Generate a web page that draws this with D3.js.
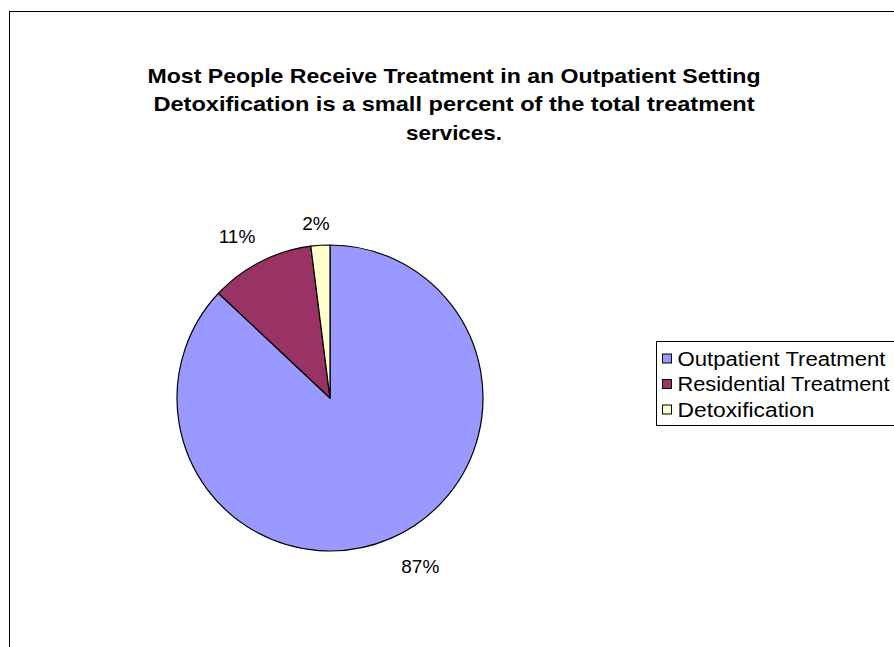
<!DOCTYPE html>
<html>
<head>
<meta charset="utf-8">
<script src="https://cdn.jsdelivr.net/npm/d3@7"></script>
<style>
  html, body { margin: 0; padding: 0; background: #fff; }
  svg { display: block; }
  text { font-family: "Liberation Sans", Arial, sans-serif; fill: #000; }
</style>
</head>
<body>
<svg id="chart" width="894" height="647"></svg>
<script>
// Treatment setting shares (percent of total treatment services)
const categories = ["Outpatient Treatment", "Residential Treatment", "Detoxification"];
const shares = [87, 11, 2];
const colors = ["#9999FF", "#993366", "#FFFFCC"];
const titleLines = [
  "Most People Receive Treatment in an Outpatient Setting",
  "Detoxification is a small percent of the total treatment",
  "services."
];

const svg = d3.select("#chart");

// chart area frame (runs off the right and bottom edges)
svg.append("rect")
  .attr("x", 9.5).attr("y", 11.5)
  .attr("width", 900).attr("height", 700)
  .attr("fill", "#fff")
  .attr("stroke", "#000").attr("stroke-width", 1);

// title: three centred bold lines, set to a fixed width
const titleY = [83, 111, 140];
const titleW = [613, 601, 96];
const title = svg.append("g");
titleLines.forEach((t, i) => {
  title.append("text")
    .attr("x", 454).attr("y", titleY[i])
    .attr("text-anchor", "middle")
    .attr("font-size", 21)
    .attr("font-weight", "bold")
    .attr("textLength", titleW[i])
    .attr("lengthAdjust", "spacingAndGlyphs")
    .text(t);
});

// pie, starting at 12 o'clock and running clockwise
const cx = 330, cy = 398, r = 153;
const pie = d3.pie().sort(null).value(d => d)
  .startAngle(0).endAngle(2 * Math.PI);
const arcs = pie(shares);
const arc = d3.arc().innerRadius(0).outerRadius(r);

const g = svg.append("g").attr("transform", `translate(${cx},${cy})`);
g.selectAll("path.slice")
  .data(arcs)
  .join("path")
  .attr("class", "slice")
  .attr("d", arc)
  .attr("fill", (d, i) => colors[i])
  .attr("stroke", "#000")
  .attr("stroke-width", 1.2)
  .attr("stroke-linejoin", "round");

// percentage labels outside the pie: distance past the rim and an angular nudge
const labelGap = [38, 33, 22];
const labelTurn = [-4.8, -3, -1].map(d => d * Math.PI / 180);
g.selectAll("text.pct")
  .data(arcs)
  .join("text")
  .attr("class", "pct")
  .attr("text-anchor", "middle")
  .attr("dominant-baseline", "central")
  .attr("font-size", 19)
  .attr("transform", (d, i) => {
    const a = (d.startAngle + d.endAngle) / 2 + labelTurn[i];
    const lr = r + labelGap[i];
    return `translate(${Math.sin(a) * lr},${-Math.cos(a) * lr})`;
  })
  .text(d => d.data + "%");

// legend
const lg = svg.append("g").attr("transform", "translate(656.5,341.5)");
lg.append("rect")
  .attr("width", 260).attr("height", 84)
  .attr("fill", "#fff").attr("stroke", "#000").attr("stroke-width", 1);
const rowY = d3.scalePoint().domain(categories).range([17, 68]);
const legendW = [208, 212, 137];
const item = lg.selectAll("g.item")
  .data(categories)
  .join("g")
  .attr("class", "item")
  .attr("transform", d => `translate(0,${rowY(d)})`);
item.append("rect")
  .attr("x", 6).attr("y", -4.5)
  .attr("width", 9).attr("height", 9)
  .attr("fill", (d, i) => colors[i])
  .attr("stroke", "#000").attr("stroke-width", 1);
item.append("text")
  .attr("x", 21)
  .attr("dominant-baseline", "central")
  .attr("font-size", 19.5)
  .attr("textLength", (d, i) => legendW[i])
  .attr("lengthAdjust", "spacingAndGlyphs")
  .text(d => d);
</script>
</body>
</html>
